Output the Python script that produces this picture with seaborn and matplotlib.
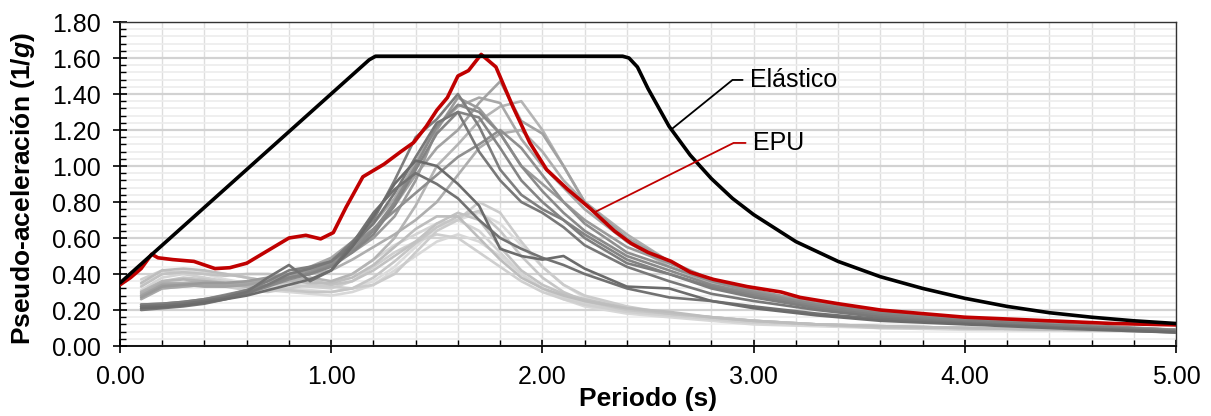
import numpy as np
import pandas as pd
import matplotlib
matplotlib.use("Agg")
import matplotlib.pyplot as plt
import seaborn as sns
from matplotlib.ticker import MultipleLocator, FormatStrFormatter

# ---------------- data ----------------
# Elastic design spectrum
elastico_T = [0.00, 1.18, 1.21, 2.38, 2.41, 2.45, 2.50, 2.60, 2.70, 2.80, 2.90, 3.00,
              3.20, 3.40, 3.60, 3.80, 4.00, 4.20, 4.40, 4.60, 4.80, 5.00]
elastico_sa = [0.35, 1.59, 1.61, 1.61, 1.60, 1.55, 1.43, 1.22, 1.06, 0.93, 0.82, 0.73,
               0.58, 0.47, 0.385, 0.32, 0.265, 0.22, 0.185, 0.16, 0.14, 0.125]

# Uniform-hazard spectrum (EPU)
epu_T = [0.00, 0.05, 0.10, 0.15, 0.18, 0.25, 0.35, 0.45, 0.52, 0.60, 0.70, 0.80, 0.88,
         0.95, 1.01, 1.07, 1.15, 1.25, 1.33, 1.39, 1.45, 1.50, 1.55, 1.60, 1.65, 1.71,
         1.78, 1.86, 1.94, 2.02, 2.12, 2.23, 2.34, 2.42, 2.50, 2.61, 2.70, 2.81, 2.97,
         3.13, 3.22, 3.40, 3.60, 3.80, 4.00, 4.40, 4.70, 5.00]
epu_sa = [0.34, 0.38, 0.43, 0.51, 0.49, 0.48, 0.47, 0.43, 0.435, 0.46, 0.53, 0.60, 0.615,
          0.595, 0.63, 0.77, 0.94, 1.01, 1.08, 1.13, 1.22, 1.31, 1.38, 1.50, 1.53, 1.62,
          1.55, 1.33, 1.13, 0.98, 0.87, 0.76, 0.64, 0.57, 0.52, 0.47, 0.41, 0.37, 0.33,
          0.30, 0.27, 0.235, 0.20, 0.18, 0.16, 0.14, 0.125, 0.117]

# Scaled ground-motion records (common period grid)
periodos = [0.1, 0.2, 0.3, 0.4, 0.5, 0.6, 0.7, 0.8, 0.9, 1.0, 1.1, 1.2, 1.3, 1.4, 1.5,
            1.6, 1.7, 1.8, 1.9, 2.0, 2.1, 2.2, 2.4, 2.6, 2.8, 3.0, 3.3, 3.6, 4.0, 4.5, 5.0]

reg_01 = [.21, .215, .225, .24, .26, .28, .31, .34, .37, .42, .55, .72, .90, 1.03, 1.00, .90, .78, .54, .50, .48, .50, .43, .33, .32, .25, .21, .17, .14, .12, .095, .075]
reg_02 = [.22, .225, .235, .25, .27, .30, .38, .45, .36, .42, .57, .74, .87, .96, .90, .82, .70, .60, .54, .49, .45, .40, .32, .27, .25, .22, .18, .15, .125, .10, .08]
reg_03 = [.20, .21, .22, .235, .26, .29, .34, .40, .43, .47, .56, .68, .85, 1.05, 1.24, 1.30, 1.08, .92, .80, .74, .66, .56, .44, .36, .29, .25, .20, .16, .13, .10, .075]
reg_04 = [.23, .235, .245, .26, .28, .31, .36, .42, .44, .47, .58, .70, .92, 1.16, 1.26, 1.40, 1.22, .98, .84, .76, .70, .60, .46, .40, .32, .27, .21, .17, .14, .11, .085]
reg_05 = [.22, .225, .235, .25, .27, .30, .34, .38, .40, .44, .52, .62, .78, .98, 1.18, 1.30, 1.27, 1.10, .92, .80, .70, .62, .48, .40, .33, .28, .22, .18, .14, .11, .085]
reg_06 = [.21, .22, .23, .245, .265, .29, .33, .37, .40, .45, .53, .64, .80, 1.00, 1.22, 1.34, 1.30, 1.18, 1.00, .86, .74, .64, .50, .42, .34, .29, .23, .18, .14, .11, .085]
reg_07 = [.23, .235, .245, .26, .285, .31, .34, .38, .41, .46, .55, .65, .75, .85, .95, 1.05, 1.12, 1.20, 1.10, .95, .80, .68, .52, .44, .36, .30, .23, .19, .15, .12, .09]
reg_08 = [.27, .33, .34, .35, .35, .36, .38, .40, .42, .46, .52, .60, .72, .92, 1.20, 1.38, 1.32, 1.18, 1.00, .90, .80, .70, .55, .46, .37, .31, .24, .19, .14, .11, .09]
reg_09 = [.28, .34, .34, .33, .33, .34, .36, .39, .43, .48, .56, .65, .78, .95, 1.10, 1.20, 1.35, 1.47, 1.25, 1.18, 1.00, .80, .60, .47, .37, .30, .23, .19, .14, .11, .09]
reg_10 = [.26, .32, .33, .34, .34, .35, .37, .40, .44, .49, .58, .68, .82, 1.02, 1.22, 1.33, 1.38, 1.35, 1.15, 1.00, .88, .76, .58, .46, .37, .30, .23, .18, .14, .11, .085]
reg_11 = [.29, .35, .35, .36, .35, .35, .36, .38, .40, .42, .48, .55, .62, .70, .80, .95, 1.10, 1.18, 1.20, 1.08, .92, .80, .62, .47, .36, .30, .23, .19, .14, .11, .09]
reg_12 = [.30, .36, .37, .36, .34, .33, .34, .36, .38, .36, .40, .48, .60, .78, 1.00, 1.12, 1.25, 1.33, 1.36, 1.20, 1.00, .80, .58, .44, .35, .29, .22, .18, .14, .11, .09]
reg_13 = [.35, .42, .43, .42, .40, .38, .36, .36, .35, .35, .38, .45, .55, .65, .72, .72, .60, .48, .38, .32, .28, .25, .21, .19, .16, .14, .12, .11, .10, .09, .08]
reg_14 = [.33, .40, .41, .40, .39, .40, .40, .39, .37, .34, .36, .42, .50, .58, .68, .74, .70, .55, .42, .34, .29, .26, .21, .18, .16, .14, .12, .11, .10, .09, .08]
reg_15 = [.30, .36, .38, .37, .35, .33, .32, .31, .30, .30, .32, .38, .47, .57, .66, .72, .75, .64, .50, .38, .30, .25, .20, .18, .16, .14, .12, .10, .10, .09, .08]
reg_16 = [.28, .32, .33, .34, .33, .31, .30, .32, .34, .33, .32, .34, .40, .52, .64, .70, .80, .74, .58, .44, .34, .28, .22, .18, .16, .14, .12, .11, .10, .09, .08]
reg_17 = [.37, .42, .40, .38, .36, .35, .34, .34, .33, .32, .36, .44, .52, .58, .62, .60, .52, .44, .36, .30, .26, .23, .19, .17, .15, .13, .12, .11, .10, .09, .08]
reg_18 = [.31, .38, .40, .41, .40, .38, .36, .34, .33, .34, .40, .48, .56, .62, .68, .70, .64, .52, .40, .32, .27, .24, .20, .18, .15, .13, .12, .11, .10, .09, .08]
reg_19 = [.29, .33, .34, .34, .33, .32, .31, .30, .29, .28, .30, .34, .42, .50, .58, .62, .58, .50, .40, .32, .26, .22, .18, .16, .14, .12, .11, .10, .09, .085, .08]
reg_20 = [.34, .40, .42, .40, .37, .35, .33, .32, .31, .30, .32, .36, .44, .55, .66, .70, .74, .68, .56, .44, .34, .27, .21, .18, .15, .13, .12, .11, .10, .09, .08]

registros = {
    "R01": reg_01, "R02": reg_02, "R03": reg_03, "R04": reg_04, "R05": reg_05,
    "R06": reg_06, "R07": reg_07, "R08": reg_08, "R09": reg_09, "R10": reg_10,
    "R11": reg_11, "R12": reg_12, "R13": reg_13, "R14": reg_14, "R15": reg_15,
    "R16": reg_16, "R17": reg_17, "R18": reg_18, "R19": reg_19, "R20": reg_20,
}
tonos = {
    "R01": "#6b6b6b", "R02": "#727272", "R03": "#787878", "R04": "#7e7e7e", "R05": "#848484",
    "R06": "#8a8a8a", "R07": "#8f8f8f", "R08": "#9a9a9a", "R09": "#a2a2a2", "R10": "#a8a8a8",
    "R11": "#aeaeae", "R12": "#b4b4b4", "R13": "#bdbdbd", "R14": "#c2c2c2", "R15": "#c6c6c6",
    "R16": "#cbcbcb", "R17": "#cfcfcf", "R18": "#d4d4d4", "R19": "#d8d8d8", "R20": "#dcdcdc",
}

# ---------------- style ----------------
sns.set_theme(style="white")
plt.rcParams["font.family"] = ["Liberation Sans", "DejaVu Sans"]
plt.rcParams["mathtext.fontset"] = "custom"
plt.rcParams["mathtext.rm"] = "Liberation Sans:bold"
plt.rcParams["mathtext.it"] = "Liberation Sans:italic:bold"
plt.rcParams["text.color"] = "black"
plt.rcParams["axes.labelcolor"] = "black"
plt.rcParams["xtick.color"] = "black"
plt.rcParams["ytick.color"] = "black"

W, H = 1211, 416
fig = plt.figure(figsize=(W / 100, H / 100), dpi=100)
ax = fig.add_axes([120 / W, 1 - 346 / H, 1056 / W, 324 / H])

# records: lightest drawn first so darker traces sit on top
orden = list(registros.keys())[::-1]
df = pd.concat(
    [pd.DataFrame({"periodo": periodos, "sa": registros[k], "registro": k}) for k in orden],
    ignore_index=True,
)
sns.lineplot(data=df, x="periodo", y="sa", hue="registro", hue_order=orden,
             palette=tonos, estimator=None, sort=False, legend=False,
             linewidth=1.9, ax=ax, zorder=3)

sns.lineplot(x=epu_T, y=epu_sa, color="#c00000", linewidth=2.6, sort=False,
             estimator=None, ax=ax, zorder=5)
sns.lineplot(x=elastico_T, y=elastico_sa, color="black", linewidth=2.6, sort=False,
             estimator=None, ax=ax, zorder=6)

# leader lines and curve labels
ax.plot([2.607, 2.90, 2.948], [1.20, 1.478, 1.478], color="black", lw=1.3, zorder=7,
        solid_joinstyle="miter")
ax.text(2.985, 1.478, "Elástico", fontsize=18, va="center", ha="left", color="black", zorder=8)
ax.plot([2.25, 2.905, 2.962], [0.745, 1.128, 1.128], color="#c00000", lw=1.3, zorder=7,
        solid_joinstyle="miter")
ax.text(2.995, 1.128, "EPU", fontsize=18, va="center", ha="left", color="black", zorder=8)

# ---------------- axes ----------------
ax.set_xlim(0, 5)
ax.set_ylim(0, 1.8)
ax.xaxis.set_major_locator(MultipleLocator(1.0))
ax.xaxis.set_minor_locator(MultipleLocator(0.2))
ax.yaxis.set_major_locator(MultipleLocator(0.2))
ax.yaxis.set_minor_locator(MultipleLocator(0.04))
ax.xaxis.set_major_formatter(FormatStrFormatter("%.2f"))
ax.yaxis.set_major_formatter(FormatStrFormatter("%.2f"))

ax.grid(which="major", axis="y", color="#d2d2d2", lw=1.6, zorder=0)
ax.grid(which="minor", axis="y", color="#ececec", lw=1.2, zorder=0)
ax.grid(which="both", axis="x", color="#dedede", lw=1.0, zorder=0)
ax.set_axisbelow(True)

ax.tick_params(which="major", direction="inout", length=10, width=1.2, color="black",
               labelsize=18, labelcolor="black", pad=9)
ax.tick_params(which="minor", direction="in", length=4.5, width=1.0, color="black")
ax.tick_params(axis="x", which="both", bottom=True, top=False)
ax.tick_params(axis="y", which="both", left=True, right=False)

for lado in ["left", "bottom"]:
    ax.spines[lado].set_color("black")
    ax.spines[lado].set_linewidth(1.3)
for lado in ["top", "right"]:
    ax.spines[lado].set_color("#333333")
    ax.spines[lado].set_linewidth(1.0)

ax.set_xlabel("Periodo (s)", fontsize=19, fontweight="bold", va="top", color="black")
ax.set_ylabel("Pseudo-aceleración (1/$g$)", fontsize=19, fontweight="bold", color="black")
ax.xaxis.set_label_coords(0.5, -0.128)
ax.yaxis.set_label_coords(-0.079, 0.485)

fig.savefig("out.png", dpi=100, facecolor="white")
